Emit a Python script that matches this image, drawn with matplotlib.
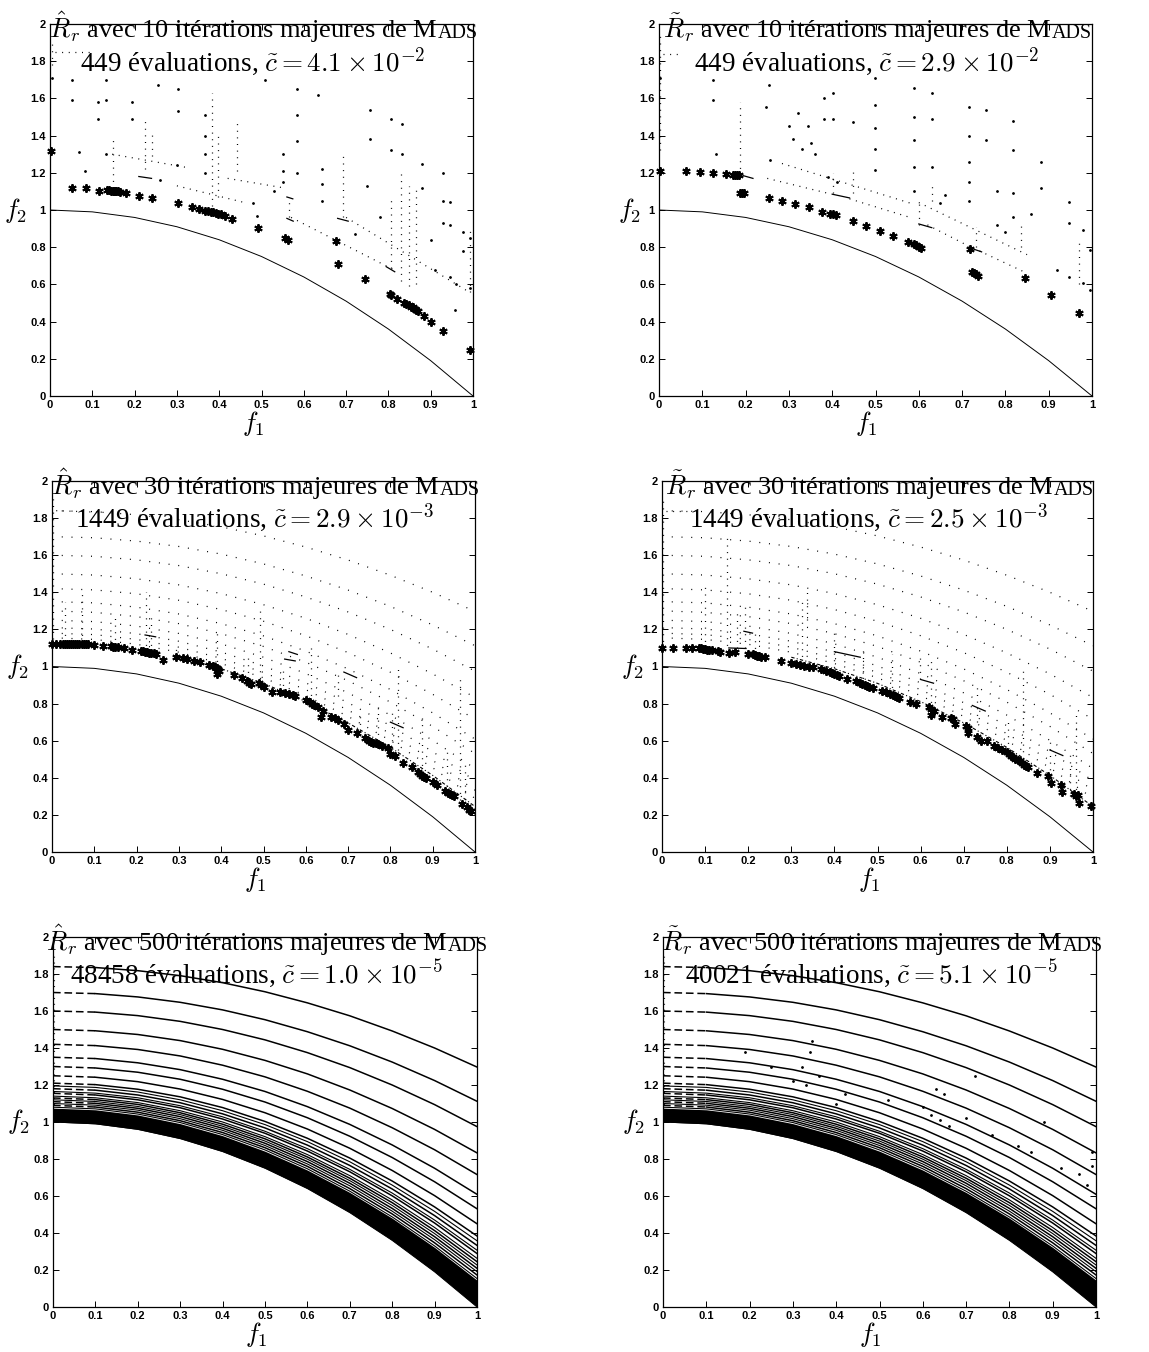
import numpy as np
import matplotlib
matplotlib.use('Agg')
import matplotlib.pyplot as plt

plt.rcParams['font.family'] = ['Liberation Serif', 'DejaVu Serif']
plt.rcParams['mathtext.fontset'] = 'cm'

# true front
front_x = [0, .1, .2, .3, .4, .5, .6, .7, .8, .9, 1]
front_y = [1, .99, .96, .91, .84, .75, .64, .51, .36, .19, 0]

# level curves of the 500-iteration runs (values read at f1 = 0, 0.1, ..., 1)
band_x = [0, .1, .2, .3, .4, .5, .6, .7, .8, .9, 1]
band_y = [
    [1.84, 1.835, 1.818, 1.791, 1.753, 1.704, 1.644, 1.574, 1.492, 1.400, 1.297],
    [1.70, 1.694, 1.676, 1.647, 1.606, 1.553, 1.488, 1.412, 1.324, 1.224, 1.112],
    [1.60, 1.594, 1.575, 1.544, 1.500, 1.444, 1.375, 1.294, 1.200, 1.094, 0.975],
    [1.50, 1.493, 1.473, 1.440, 1.393, 1.333, 1.260, 1.173, 1.073, 0.960, 0.833],
    [1.42, 1.413, 1.392, 1.357, 1.307, 1.244, 1.166, 1.075, 0.969, 0.850, 0.716],
    [1.35, 1.343, 1.320, 1.283, 1.231, 1.165, 1.083, 0.987, 0.876, 0.750, 0.609],
    [1.30, 1.292, 1.269, 1.231, 1.177, 1.108, 1.023, 0.923, 0.808, 0.677, 0.531],
    [1.25, 1.242, 1.218, 1.178, 1.122, 1.050, 0.962, 0.858, 0.738, 0.602, 0.450],
    [1.21, 1.202, 1.177, 1.136, 1.078, 1.003, 0.912, 0.805, 0.681, 0.541, 0.384],
    [1.18, 1.172, 1.146, 1.104, 1.044, 0.968, 0.875, 0.765, 0.638, 0.494, 0.333],
    [1.155, 1.146, 1.120, 1.077, 1.016, 0.939, 0.843, 0.731, 0.601, 0.454, 0.289],
    [1.13, 1.121, 1.095, 1.050, 0.988, 0.909, 0.811, 0.696, 0.564, 0.413, 0.245],
    [1.11, 1.101, 1.074, 1.029, 0.966, 0.885, 0.786, 0.669, 0.533, 0.380, 0.209],
    [1.09, 1.081, 1.053, 1.007, 0.943, 0.861, 0.760, 0.640, 0.503, 0.347, 0.173],
]
# tighter curves just above the black region
fine_y = [
    [1.195, 1.187, 1.162, 1.120, 1.061, 0.986, 0.894, 0.785, 0.659, 0.517, 0.358],
    [1.165, 1.156, 1.131, 1.088, 1.028, 0.950, 0.856, 0.744, 0.616, 0.470, 0.307],
    [1.14, 1.131, 1.105, 1.061, 1.000, 0.921, 0.824, 0.710, 0.579, 0.430, 0.263],
    [1.12, 1.111, 1.084, 1.040, 0.977, 0.897, 0.799, 0.683, 0.549, 0.397, 0.227],
    [1.10, 1.091, 1.064, 1.018, 0.955, 0.873, 0.773, 0.655, 0.518, 0.364, 0.191],
    [1.08, 1.071, 1.043, 0.997, 0.932, 0.849, 0.747, 0.626, 0.487, 0.330, 0.154],
]
# upper edge of the solid black region
dense_top = [1.075, 1.066, 1.038, 0.991, 0.926, 0.842, 0.740, 0.619, 0.480, 0.322, 0.145]

# ---- panel 1 : hat R, 10 iterations
p1_stars = [(0.003, 1.315), (0.053, 1.117), (0.084, 1.117), (0.117, 1.104), (0.135, 1.105),
            (0.14, 1.105), (0.145, 1.104), (0.148, 1.104), (0.151, 1.103), (0.154, 1.102),
            (0.157, 1.101), (0.161, 1.1), (0.165, 1.099), (0.179, 1.09), (0.21, 1.077),
            (0.242, 1.065), (0.303, 1.036), (0.335, 1.018), (0.352, 1.005), (0.366, 0.996),
            (0.374, 0.993), (0.38, 0.99), (0.386, 0.987), (0.392, 0.984), (0.398, 0.981),
            (0.405, 0.977), (0.413, 0.97), (0.431, 0.952), (0.492, 0.901), (0.555, 0.847),
            (0.563, 0.84), (0.677, 0.835), (0.681, 0.708), (0.744, 0.629), (0.804, 0.55),
            (0.807, 0.545), (0.82, 0.522), (0.836, 0.498), (0.842, 0.492), (0.848, 0.487),
            (0.853, 0.481), (0.858, 0.476), (0.862, 0.47), (0.866, 0.464), (0.87, 0.458),
            (0.883, 0.43), (0.9, 0.40), (0.929, 0.351), (0.992, 0.247)]
p1_dots = [(0.004, 1.71), (0.051, 1.70), (0.132, 1.70), (0.051, 1.59), (0.114, 1.58), (0.132, 1.59),
           (0.194, 1.58), (0.256, 1.67), (0.303, 1.65), (0.303, 1.53), (0.114, 1.49), (0.195, 1.49),
           (0.069, 1.31), (0.083, 1.21), (0.132, 1.30), (0.366, 1.51), (0.366, 1.40), (0.366, 1.30),
           (0.366, 1.20), (0.508, 1.70), (0.583, 1.65), (0.634, 1.62), (0.756, 1.54), (0.805, 1.49),
           (0.832, 1.46), (0.756, 1.38), (0.88, 1.25), (0.93, 1.20), (0.945, 1.045), (0.976, 0.88),
           (0.976, 0.78), (0.583, 1.51), (0.583, 1.37), (0.583, 1.20), (0.551, 1.30), (0.551, 1.21),
           (0.551, 1.15), (0.642, 1.22), (0.642, 1.14), (0.642, 1.05), (0.805, 1.32), (0.832, 1.30),
           (0.88, 1.12), (0.93, 1.05), (0.93, 0.93), (0.945, 0.92), (0.945, 0.64), (0.993, 0.58),
           (0.993, 0.85), (0.958, 0.46), (0.26, 1.16), (0.30, 1.24), (0.48, 1.04), (0.53, 1.10),
           (0.49, 0.97), (0.72, 0.87), (0.75, 1.13), (0.78, 0.96), (0.90, 0.84), (0.91, 0.68),
           (0.96, 0.60)]
p1_dotted = [(0.004, 1.78, 0.004, 1.92), (0.012, 1.85, 0.095, 1.85), (0.148, 1.12, 0.148, 1.40),
             (0.224, 1.22, 0.224, 1.48), (0.24, 1.29, 0.24, 1.41), (0.147, 1.30, 0.32, 1.23),
             (0.382, 1.02, 0.382, 1.63), (0.398, 1.07, 0.398, 1.40), (0.443, 1.21, 0.443, 1.49),
             (0.30, 1.13, 0.46, 1.04), (0.42, 1.17, 0.55, 1.12), (0.57, 0.96, 0.82, 0.67),
             (0.693, 0.96, 0.693, 1.30), (0.565, 0.96, 0.565, 1.07), (0.805, 0.69, 0.805, 1.07),
             (0.83, 0.62, 0.83, 1.20), (0.849, 0.59, 0.849, 1.13), (0.865, 0.60, 0.865, 1.12),
             (0.70, 0.96, 0.99, 0.56), (0.993, 0.56, 0.993, 0.90)]
p1_dashes = [(0.21, 1.18, 0.24, 1.17), (0.56, 1.07, 0.574, 1.06), (0.56, 0.955, 0.575, 0.94),
             (0.68, 0.955, 0.705, 0.94), (0.795, 0.695, 0.815, 0.668)]

# ---- panel 2 : tilde R, 10 iterations
p2_stars = [(0.003, 1.21), (0.063, 1.21), (0.094, 1.206), (0.125, 1.20), (0.155, 1.194), (0.17, 1.19),
            (0.175, 1.19), (0.18, 1.188), (0.185, 1.187), (0.188, 1.09), (0.192, 1.09), (0.196, 1.089),
            (0.253, 1.063), (0.284, 1.048), (0.315, 1.032), (0.346, 1.014), (0.377, 0.991), (0.394, 0.98),
            (0.402, 0.977), (0.408, 0.973), (0.448, 0.943), (0.479, 0.916), (0.511, 0.887), (0.541, 0.86),
            (0.574, 0.83), (0.588, 0.817), (0.594, 0.81), (0.6, 0.803), (0.606, 0.796), (0.719, 0.789),
            (0.722, 0.664), (0.727, 0.66), (0.732, 0.654), (0.737, 0.647), (0.845, 0.633), (0.906, 0.543),
            (0.969, 0.448)]
p2_dots = [(0.003, 1.71), (0.125, 1.70), (0.125, 1.59), (0.132, 1.30), (0.253, 1.67), (0.248, 1.555),
           (0.256, 1.27), (0.30, 1.45), (0.31, 1.38), (0.32, 1.52), (0.33, 1.33), (0.345, 1.45),
           (0.35, 1.36), (0.36, 1.30), (0.38, 1.49), (0.38, 1.60), (0.403, 1.63), (0.403, 1.49),
           (0.39, 1.18), (0.41, 1.15), (0.448, 1.475), (0.498, 1.71), (0.498, 1.565), (0.498, 1.44),
           (0.498, 1.33), (0.498, 1.215), (0.589, 1.655), (0.589, 1.50), (0.589, 1.375), (0.589, 1.23),
           (0.589, 1.10), (0.63, 1.63), (0.63, 1.49), (0.63, 1.23), (0.717, 1.555), (0.717, 1.40),
           (0.717, 1.26), (0.717, 1.15), (0.717, 1.05), (0.756, 1.54), (0.756, 1.375), (0.818, 1.48),
           (0.818, 1.32), (0.818, 1.09), (0.818, 0.96), (0.883, 1.26), (0.883, 1.12), (0.946, 1.045),
           (0.946, 0.93), (0.946, 0.64), (0.98, 0.89), (0.98, 0.605), (0.995, 0.785), (0.995, 0.57),
           (0.66, 1.08), (0.65, 1.04), (0.78, 1.10), (0.78, 0.92), (0.80, 0.88), (0.86, 0.98),
           (0.92, 0.68)]
p2_dotted = [(0.003, 1.32, 0.003, 1.95), (0.01, 1.84, 0.05, 1.84), (0.188, 1.19, 0.188, 1.58),
             (0.284, 1.25, 0.59, 1.03), (0.25, 1.17, 0.39, 1.09), (0.44, 1.06, 0.58, 0.96),
             (0.60, 1.04, 0.85, 0.76), (0.74, 0.78, 0.85, 0.66), (0.62, 0.92, 0.72, 0.80),
             (0.403, 1.09, 0.403, 1.20), (0.448, 1.09, 0.448, 1.22), (0.60, 0.92, 0.60, 1.06),
             (0.63, 1.05, 0.63, 1.15), (0.731, 0.80, 0.731, 0.91), (0.835, 0.80, 0.835, 0.92),
             (0.97, 0.60, 0.97, 0.85)]
p2_dashes = [(0.194, 1.185, 0.217, 1.17), (0.40, 1.085, 0.44, 1.065), (0.60, 0.925, 0.63, 0.905),
             (0.72, 0.795, 0.745, 0.775)]

# ---- panel 3 : hat R, 30 iterations
p3_stars = [(0.0, 1.123), (0.01, 1.123), (0.02, 1.123), (0.025, 1.123), (0.03, 1.123), (0.035, 1.123),
            (0.04, 1.123), (0.045, 1.122), (0.05, 1.122), (0.055, 1.122), (0.06, 1.122), (0.065, 1.121),
            (0.07, 1.121), (0.075, 1.12), (0.08, 1.12), (0.085, 1.12), (0.1, 1.117), (0.12, 1.113),
            (0.14, 1.108), (0.145, 1.105), (0.15, 1.105), (0.155, 1.104), (0.17, 1.10), (0.19, 1.09),
            (0.21, 1.083), (0.215, 1.081), (0.22, 1.079), (0.225, 1.077), (0.23, 1.075), (0.235, 1.073),
            (0.24, 1.071), (0.245, 1.07), (0.263, 1.035), (0.294, 1.053), (0.31, 1.045), (0.32, 1.04),
            (0.335, 1.03), (0.35, 1.025), (0.37, 1.01), (0.38, 1.005), (0.385, 1.0), (0.39, 0.99),
            (0.392, 0.985), (0.395, 0.975), (0.39, 0.962), (0.43, 0.955), (0.45, 0.94), (0.46, 0.92),
            (0.465, 0.91), (0.47, 0.905), (0.49, 0.91), (0.495, 0.90), (0.50, 0.89), (0.52, 0.865),
            (0.54, 0.86), (0.55, 0.855), (0.56, 0.85), (0.57, 0.845), (0.575, 0.84), (0.60, 0.82),
            (0.61, 0.81), (0.615, 0.80), (0.62, 0.79), (0.63, 0.78), (0.64, 0.76), (0.637, 0.73),
            (0.66, 0.73), (0.67, 0.72), (0.675, 0.71), (0.69, 0.69), (0.70, 0.655), (0.72, 0.64),
            (0.74, 0.615), (0.75, 0.60), (0.755, 0.595), (0.76, 0.59), (0.765, 0.585), (0.77, 0.58),
            (0.78, 0.57), (0.795, 0.56), (0.80, 0.53), (0.81, 0.515), (0.83, 0.48), (0.85, 0.46),
            (0.865, 0.43), (0.87, 0.42), (0.875, 0.41), (0.88, 0.405), (0.885, 0.40), (0.90, 0.375),
            (0.91, 0.36), (0.93, 0.33), (0.935, 0.32), (0.94, 0.31), (0.945, 0.305), (0.95, 0.30),
            (0.97, 0.26), (0.98, 0.24), (0.985, 0.225), (0.99, 0.22)]
p3_dotted = [(0.003, 1.15, 0.003, 1.92), (0.01, 1.84, 0.13, 1.83), (0.03, 1.13, 0.03, 1.35),
             (0.07, 1.13, 0.07, 1.40), (0.148, 1.11, 0.148, 1.27), (0.223, 1.08, 0.223, 1.40),
             (0.235, 1.08, 0.235, 1.28), (0.294, 1.05, 0.294, 1.12), (0.389, 0.99, 0.389, 1.20),
             (0.464, 0.93, 0.464, 1.05), (0.491, 0.90, 0.491, 1.30), (0.547, 0.86, 0.547, 0.99),
             (0.613, 0.81, 0.613, 1.10), (0.677, 0.84, 0.677, 0.96), (0.728, 0.65, 0.728, 0.75),
             (0.77, 0.60, 0.77, 0.78), (0.803, 0.53, 0.803, 0.75), (0.818, 0.55, 0.818, 1.00),
             (0.874, 0.43, 0.874, 0.75), (0.933, 0.32, 0.933, 0.55), (0.965, 0.28, 0.965, 0.95),
             (0.976, 0.25, 0.976, 0.47)]
p3_dashes = [(0.22, 1.17, 0.245, 1.16), (0.56, 1.08, 0.58, 1.065), (0.55, 1.04, 0.575, 1.03),
             (0.69, 0.97, 0.72, 0.94), (0.80, 0.70, 0.83, 0.67)]

# ---- panel 4 : tilde R, 30 iterations
p4_stars = [(0.0, 1.10), (0.025, 1.10), (0.055, 1.10), (0.07, 1.10), (0.085, 1.10), (0.09, 1.098),
            (0.095, 1.095), (0.1, 1.093), (0.105, 1.09), (0.11, 1.088), (0.115, 1.087), (0.13, 1.085),
            (0.135, 1.08), (0.155, 1.075), (0.17, 1.08), (0.20, 1.07), (0.21, 1.065), (0.215, 1.06),
            (0.22, 1.055), (0.225, 1.055), (0.23, 1.05), (0.24, 1.05), (0.275, 1.03), (0.30, 1.02),
            (0.31, 1.015), (0.32, 1.01), (0.33, 1.005), (0.34, 1.0), (0.35, 0.995), (0.37, 0.985),
            (0.38, 0.975), (0.39, 0.97), (0.395, 0.965), (0.40, 0.96), (0.405, 0.955), (0.41, 0.95),
            (0.43, 0.93), (0.45, 0.92), (0.46, 0.91), (0.465, 0.905), (0.47, 0.90), (0.475, 0.895),
            (0.48, 0.89), (0.49, 0.885), (0.51, 0.87), (0.52, 0.86), (0.53, 0.85), (0.535, 0.845),
            (0.54, 0.84), (0.545, 0.835), (0.55, 0.83), (0.575, 0.81), (0.59, 0.80), (0.62, 0.78),
            (0.625, 0.77), (0.63, 0.76), (0.625, 0.74), (0.65, 0.73), (0.67, 0.72), (0.675, 0.715),
            (0.68, 0.69), (0.705, 0.68), (0.71, 0.67), (0.71, 0.64), (0.73, 0.62), (0.74, 0.60),
            (0.755, 0.60), (0.77, 0.57), (0.78, 0.56), (0.79, 0.55), (0.80, 0.54), (0.805, 0.53),
            (0.81, 0.52), (0.815, 0.51), (0.82, 0.50), (0.825, 0.495), (0.83, 0.49), (0.835, 0.48),
            (0.84, 0.47), (0.845, 0.465), (0.85, 0.46), (0.87, 0.425), (0.895, 0.41), (0.903, 0.371),
            (0.925, 0.36), (0.927, 0.326), (0.955, 0.31), (0.96, 0.30), (0.965, 0.305), (0.967, 0.264),
            (0.995, 0.25)]
p4_dotted = [(0.003, 1.10, 0.003, 1.90), (0.01, 1.84, 0.06, 1.84), (0.10, 1.10, 0.10, 1.45),
             (0.15, 1.08, 0.15, 1.70), (0.174, 1.10, 0.174, 1.30), (0.193, 1.10, 0.193, 1.35),
             (0.216, 1.06, 0.216, 1.20), (0.324, 1.02, 0.324, 1.35), (0.336, 1.25, 0.336, 1.40),
             (0.40, 0.96, 0.40, 1.20), (0.467, 0.90, 0.467, 1.10), (0.533, 0.85, 0.533, 1.07),
             (0.598, 0.93, 0.598, 1.05), (0.625, 0.77, 0.625, 1.05), (0.73, 0.70, 0.73, 0.90),
             (0.803, 0.55, 0.803, 0.70), (0.838, 0.47, 0.838, 0.98), (0.90, 0.37, 0.90, 0.60),
             (0.946, 0.30, 0.946, 0.55), (0.961, 0.30, 0.961, 0.75)]
p4_dashes = [(0.155, 1.10, 0.195, 1.097), (0.19, 1.19, 0.21, 1.18), (0.40, 1.08, 0.46, 1.05),
             (0.60, 0.93, 0.63, 0.91), (0.72, 0.79, 0.75, 0.76), (0.90, 0.55, 0.93, 0.52)]

# ---- panel 6 : stray points above the level curves
p6_dots = [(0.30, 1.22), (0.32, 1.30), (0.34, 1.38), (0.345, 1.44), (0.36, 1.25), (0.33, 1.20),
           (0.40, 1.10), (0.42, 1.15), (0.52, 1.12), (0.60, 1.08), (0.62, 1.04), (0.64, 1.01),
           (0.66, 0.98), (0.70, 1.02), (0.63, 1.18), (0.65, 1.15), (0.76, 0.93), (0.82, 0.87),
           (0.85, 0.84), (0.92, 0.75), (0.96, 0.72), (0.98, 0.66), (0.99, 0.76), (0.99, 0.84),
           (0.72, 1.25), (0.88, 1.0), (0.25, 1.30), (0.19, 1.38)]

titles = [
    (r'$\hat{R}_r$', '10', r'449 évaluations, $\tilde{c} = 4.1 \times 10^{-2}$'),
    (r'$\tilde{R}_r$', '10', r'449 évaluations, $\tilde{c} = 2.9 \times 10^{-2}$'),
    (r'$\hat{R}_r$', '30', r'1449 évaluations, $\tilde{c} = 2.9 \times 10^{-3}$'),
    (r'$\tilde{R}_r$', '30', r'1449 évaluations, $\tilde{c} = 2.5 \times 10^{-3}$'),
    (r'$\hat{R}_r$', '500', r'48458 évaluations, $\tilde{c} = 1.0 \times 10^{-5}$'),
    (r'$\tilde{R}_r$', '500', r'40021 évaluations, $\tilde{c} = 5.1 \times 10^{-5}$'),
]

# axes boxes in figure pixels (left, right, top, bottom)
W, H = 1149, 1352
boxes = [(50, 473, 24, 396), (659, 1092, 24, 396),
         (52, 475, 481, 852), (662, 1093, 481, 852),
         (53, 477, 937, 1307), (663, 1096, 937, 1307)]

DOT = (0, (0.8, 4.5))


def pts(ax, pairs, **kw):
    a = np.array(pairs)
    ax.plot(a[:, 0], a[:, 1], ls='none', color='k', clip_on=False, **kw)


def segs(ax, lst, ls, lw=0.9):
    for x0, y0, x1, y1 in lst:
        ax.plot([x0, x1], [y0, y1], color='k', ls=ls, lw=lw)


def star(ax, pairs):
    pts(ax, pairs, marker=(6, 2, 0), ms=6, mew=1.4)


fig = plt.figure(figsize=(W / 100, H / 100), dpi=100)
axes = []
for (l, r, t, b) in boxes:
    axes.append(fig.add_axes([l / W, 1 - b / H, (r - l) / W, (b - t) / H]))

for i, ax in enumerate(axes):
    ax.plot(front_x, front_y, color='k', lw=0.7)

# panels with 10 and 30 iterations
segs(axes[0], p1_dotted, DOT)
segs(axes[0], p1_dashes, '-', 0.9)
pts(axes[0], p1_dots, marker='.', ms=2)
star(axes[0], p1_stars)

segs(axes[1], p2_dotted, DOT)
segs(axes[1], p2_dashes, '-', 0.9)
pts(axes[1], p2_dots, marker='.', ms=2)
star(axes[1], p2_stars)

for ax, dotted, dashes, stars in [(axes[2], p3_dotted, p3_dashes, p3_stars),
                                  (axes[3], p4_dotted, p4_dashes, p4_stars)]:
    for row in band_y[:11]:
        ax.plot(band_x, row, color='k', ls=(0, (0.8, 7)), lw=0.9)
    ax.plot(band_x[3:], band_y[11][3:], color='k', ls=(0, (3, 2, 1, 2)), lw=0.8)
    segs(ax, dotted, DOT)
    segs(ax, dashes, '-', 0.9)
    star(ax, stars)

# panels with 500 iterations
for ax in axes[4:]:
    ax.fill_between(front_x, front_y, dense_top, color='k', lw=0)
    for row in fine_y:
        ax.plot(band_x, row, color='k', lw=0.8)
    for row in band_y:
        ax.plot(band_x[1:], row[1:], color='k', lw=1.1)
        ax.plot(band_x[:2], row[:2], color='k', lw=1.1, ls=(0, (5, 2.5)))
    ax.plot([0.003, 0.003], [1.0, 1.9], color='k', ls=DOT, lw=0.8)
pts(axes[5], p6_dots, marker='.', ms=2)

xticks = [0, .1, .2, .3, .4, .5, .6, .7, .8, .9, 1]
xlabels = ['0', '0.1', '0.2', '0.3', '0.4', '0.5', '0.6', '0.7', '0.8', '0.9', '1']
yticks = [0, .2, .4, .6, .8, 1, 1.2, 1.4, 1.6, 1.8, 2]
ylabels = ['0', '0.2', '0.4', '0.6', '0.8', '1', '1.2', '1.4', '1.6', '1.8', '2']

for i, ax in enumerate(axes):
    ax.set_xlim(0, 1)
    ax.set_ylim(0, 2)
    ax.set_xticks(xticks)
    ax.set_yticks(yticks)
    ax.set_xticklabels(xlabels, fontfamily='Liberation Sans', fontweight='bold', fontsize=8)
    ax.set_yticklabels(ylabels, fontfamily='Liberation Sans', fontweight='bold', fontsize=8)
    ax.tick_params(direction='in', length=4, width=0.7, top=True, right=True, pad=3)
    for s in ax.spines.values():
        s.set_linewidth(0.9)
    lx = -0.082 if i % 2 == 0 else -0.068
    ax.text(lx, 0.5, '$f_2$', transform=ax.transAxes, ha='center', va='center', fontsize=19)
    ax.text(0.48, -0.075, '$f_1$', transform=ax.transAxes, ha='center', va='center', fontsize=19)

# titles: first line with small-caps MADS, centred by measuring the pieces
renderer = fig.canvas.get_renderer()
for ax, (rsym, nit, line2) in zip(axes, titles):
    t1 = ax.text(0, 0.962, rsym + ' avec ' + nit + ' itérations majeures de M',
                 transform=ax.transAxes, ha='left', va='baseline', fontsize=19, zorder=10)
    t2 = ax.text(0, 0.962, 'ADS', transform=ax.transAxes, ha='left', va='baseline',
                 fontsize=14.5, zorder=10)
    w1 = t1.get_window_extent(renderer).width
    w2 = t2.get_window_extent(renderer).width
    axw = ax.get_window_extent(renderer).width
    x0 = 0.505 - (w1 + w2) / 2 / axw
    t1.set_x(x0)
    t2.set_x(x0 + w1 / axw)
    ax.text(0.48, 0.876, line2, transform=ax.transAxes, ha='center', va='baseline',
            fontsize=19.5, zorder=10)

fig.savefig('out.png', dpi=100)
